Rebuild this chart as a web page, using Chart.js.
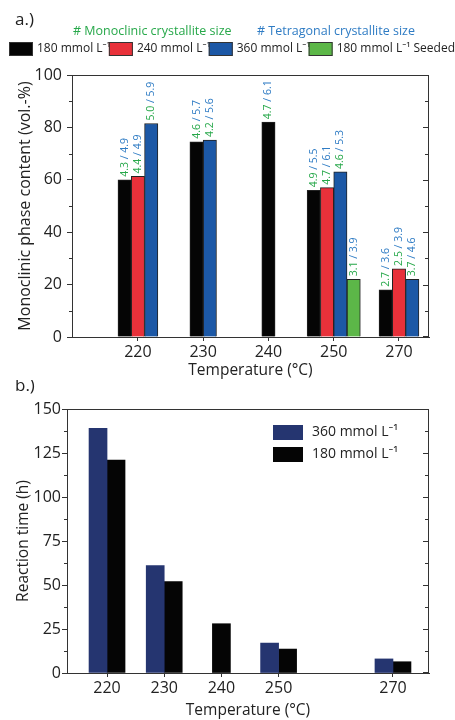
<!DOCTYPE html>
<html>
<head>
<meta charset="utf-8">
<script src="https://cdn.jsdelivr.net/npm/chart.js@4.4.0/dist/chart.umd.min.js"></script>
<style>
  html, body { margin: 0; padding: 0; background: #fff; }
  #wrapA { position: absolute; left: 0; top: 0; width: 455px; height: 380px; }
  #wrapB { position: absolute; left: 0; top: 380px; width: 455px; height: 340px; }
</style>
</head>
<body>
<div id="wrapA"><canvas id="chartA"></canvas></div>
<div id="wrapB"><canvas id="chartB"></canvas></div>
<script>
// a.) monoclinic phase content (vol.-%)
const temperatures = ['220', '230', '240', '250', '270'];
const content180 = [60, 74.5, 82, 56, 18];
const content240 = [61.3, null, null, 57, 26];
const content360 = [81.5, 75.2, null, 63, 22];
const content180Seeded = [null, null, null, 22, null];

// crystallite sizes written above the bars (monoclinic / tetragonal)
const mono180 = [4.3, 4.6, 4.7, 4.9, 2.7];
const tetra180 = [4.9, 5.7, 6.1, 5.5, 3.6];
const mono240 = [4.4, null, null, 4.7, 2.5];
const tetra240 = [4.9, null, null, 6.1, 3.9];
const mono360 = [5.0, 4.2, null, 4.6, 3.7];
const tetra360 = [5.9, 5.6, null, 5.3, 4.6];
const monoSeeded = [null, null, null, 3.1, null];
const tetraSeeded = [null, null, null, 3.9, null];

const contentTicks = [0, 20, 40, 60, 80, 100];
const contentMinorTicks = [10, 30, 50, 70, 90];

// b.) reaction time (h)
const tempsB = [220, 230, 240, 250, 270];
const time360 = [139, 61, null, 17, 8];
const time180 = [121, 52, 28, 13.6, 6.4];
const timeTicks = [0, 25, 50, 75, 100, 125, 150];
const timeMinorTicks = [12.5, 37.5, 62.5, 87.5, 112.5, 137.5];

const FONT = '"Open Sans", "Noto Sans", sans-serif';
const TEXT = '#222';
const LINE = '#333';
const GREEN_TXT = '#27a84a';
const BLUE_TXT = '#2f7cc4';

Chart.defaults.font.family = FONT;
Chart.defaults.color = TEXT;

// box edges and ticks drawn as filled 1px rectangles (top, right, minor, inner)
function drawFrame(chart, majors, minors) {
  const { ctx, chartArea: a } = chart;
  const y = chart.scales.y;
  const l = Math.round(a.left), r = Math.round(a.right) - 1;
  const t = Math.round(a.top), b = Math.round(a.bottom) - 1;
  ctx.save();
  ctx.fillStyle = LINE;
  ctx.fillRect(l, t, r - l + 1, 1);
  ctx.fillRect(r, t, 1, b - t + 1);
  majors.forEach(v => {
    const py = Math.round(y.getPixelForValue(v));
    ctx.fillRect(r - 5, Math.min(py, b), 5, 1);
  });
  minors.forEach(v => {
    const py = Math.round(y.getPixelForValue(v));
    ctx.fillRect(l - 3, py, 3, 1);
    ctx.fillRect(r - 3, py, 3, 1);
  });
  ctx.restore();
}

// rotated "mono / tetra" size labels above each bar
const sizeLabels = {
  id: 'sizeLabels',
  afterDatasetsDraw(chart) {
    const ctx = chart.ctx;
    chart.data.datasets.forEach((ds, di) => {
      const meta = chart.getDatasetMeta(di);
      meta.data.forEach((bar, i) => {
        if (ds.mono[i] == null || ds.data[i].y == null) return;
        const monoText = ds.mono[i].toFixed(1) + ' ';
        const tetraText = '/ ' + ds.tetra[i].toFixed(1);
        ctx.save();
        ctx.translate(bar.x, bar.y - 3);
        ctx.rotate(-Math.PI / 2);
        ctx.font = '10.5px ' + FONT;
        ctx.textAlign = 'left';
        ctx.textBaseline = 'middle';
        ctx.fillStyle = GREEN_TXT;
        ctx.fillText(monoText, 0, 0);
        ctx.fillStyle = BLUE_TXT;
        ctx.fillText(tetraText, ctx.measureText(monoText).width, 0);
        ctx.restore();
      });
    });
  }
};

// header of panel a.): panel letter, coloured notes and the legend row
const headerA = {
  id: 'headerA',
  afterDraw(chart) {
    drawFrame(chart, contentTicks, contentMinorTicks);
    const ctx = chart.ctx;
    ctx.save();
    ctx.textBaseline = 'middle';
    ctx.font = '17px ' + FONT;
    ctx.fillStyle = TEXT;
    ctx.fillText('a.)', 15, 20);

    ctx.font = '12.5px ' + FONT;
    ctx.fillStyle = GREEN_TXT;
    ctx.fillText('# Monoclinic crystallite size', 73, 31);
    ctx.fillStyle = BLUE_TXT;
    ctx.fillText('# Tetragonal crystallite size', 257, 31);

    ctx.font = '12px ' + FONT;
    const items = chart.data.datasets;
    const boxW = 24, boxH = 14, gapIn = 4;
    const widths = items.map(d => boxW + gapIn + ctx.measureText(d.label).width);
    const total = widths.reduce((s, w) => s + w, 0);
    const gap = (446 - total) / (items.length - 1);
    let x = 9;
    items.forEach((d, i) => {
      ctx.fillStyle = d.backgroundColor;
      ctx.fillRect(x, 42, boxW, boxH);
      ctx.strokeStyle = '#333';
      ctx.lineWidth = 1;
      ctx.strokeRect(x + 0.5, 42.5, boxW - 1, boxH - 1);
      ctx.fillStyle = TEXT;
      ctx.fillText(d.label, x + boxW + gapIn, 49);
      x += widths[i] + gap;
    });
    ctx.restore();
  }
};

const headerB = {
  id: 'headerB',
  afterDraw(chart) {
    drawFrame(chart, timeTicks, timeMinorTicks);
    const ctx = chart.ctx;
    ctx.save();
    ctx.textBaseline = 'middle';
    ctx.font = '17px ' + FONT;
    ctx.fillStyle = TEXT;
    ctx.fillText('b.)', 15, 6);

    // legend inside the plot, upper right
    ctx.font = '14px ' + FONT;
    chart.data.datasets.forEach((d, i) => {
      const by = 45 + i * 22;
      ctx.fillStyle = d.backgroundColor;
      ctx.fillRect(273, by, 30, 15);
      ctx.fillStyle = TEXT;
      ctx.fillText(d.label, 312, by + 7.5);
    });
    ctx.restore();
  }
};

const toPoints = (vals) => vals.map((v, i) => ({ x: i, y: v }));

const seriesA = [
  { label: '180 mmol L⁻¹', values: content180, mono: mono180, tetra: tetra180, color: '#050505' },
  { label: '240 mmol L⁻¹', values: content240, mono: mono240, tetra: tetra240, color: '#e8313a' },
  { label: '360 mmol L⁻¹', values: content360, mono: mono360, tetra: tetra360, color: '#1c58a6' },
  { label: '180 mmol L⁻¹ Seeded', values: content180Seeded, mono: monoSeeded, tetra: tetraSeeded, color: '#5cb748' }
];

new Chart(document.getElementById('chartA'), {
  type: 'bar',
  data: {
    datasets: seriesA.map(s => ({
      label: s.label,
      data: toPoints(s.values),
      mono: s.mono,
      tetra: s.tetra,
      backgroundColor: s.color,
      borderColor: '#222',
      borderWidth: 1,
      barThickness: 13.3,
      skipNull: true
    }))
  },
  options: {
    responsive: true,
    maintainAspectRatio: false,
    animation: false,
    layout: { padding: { top: 75, right: 26, left: 0, bottom: 0 } },
    plugins: {
      legend: { display: false },
      tooltip: { enabled: false }
    },
    scales: {
      x: {
        type: 'linear',
        offset: false,
        min: -1.01,
        max: 4.46,
        afterBuildTicks: (s) => { s.ticks = temperatures.map((t, i) => ({ value: i })); },
        afterFit: (s) => { s.height = 43; },
        ticks: { callback: (v) => temperatures[v], font: { size: 16 }, color: TEXT, padding: 2, maxRotation: 0 },
        grid: { offset: false, drawOnChartArea: false, tickLength: 4, color: LINE },
        border: { color: LINE },
        title: { display: true, text: 'Temperature (°C)', font: { size: 15.5 }, color: TEXT, padding: { top: 0, bottom: 0 } }
      },
      y: {
        min: 0,
        max: 100,
        afterBuildTicks: (s) => { s.ticks = contentTicks.map(v => ({ value: v })); },
        afterFit: (s) => { s.width = 72; },
        ticks: { font: { size: 16 }, color: TEXT, padding: 5 },
        grid: { drawOnChartArea: false, tickLength: 5, color: LINE },
        border: { color: LINE },
        title: { display: true, text: 'Monoclinic phase content (vol.-%)', font: { size: 16 }, color: TEXT, padding: { top: 16, bottom: 0 } }
      }
    }
  },
  plugins: [sizeLabels, headerA]
});

const toTempPoints = (vals) => vals.map((v, i) => ({ x: tempsB[i], y: v }));

new Chart(document.getElementById('chartB'), {
  type: 'bar',
  data: {
    datasets: [
      { label: '360 mmol L⁻¹', data: toTempPoints(time360), backgroundColor: '#253570', barThickness: 18, skipNull: true },
      { label: '180 mmol L⁻¹', data: toTempPoints(time180), backgroundColor: '#050505', barThickness: 18, skipNull: true }
    ]
  },
  options: {
    responsive: true,
    maintainAspectRatio: false,
    animation: false,
    layout: { padding: { top: 29, right: 26, left: 0, bottom: 0 } },
    plugins: {
      legend: { display: false },
      tooltip: { enabled: false }
    },
    scales: {
      x: {
        type: 'linear',
        offset: false,
        min: 213,
        max: 276.3,
        afterBuildTicks: (s) => { s.ticks = tempsB.map(v => ({ value: v })); },
        afterFit: (s) => { s.height = 47; },
        ticks: { font: { size: 16 }, color: TEXT, padding: 2, maxRotation: 0 },
        grid: { offset: false, drawOnChartArea: false, tickLength: 4, color: LINE },
        border: { color: LINE },
        title: { display: true, text: 'Temperature (°C)', font: { size: 15.5 }, color: TEXT, padding: { top: 0, bottom: 0 } }
      },
      y: {
        min: 0,
        max: 150,
        afterBuildTicks: (s) => { s.ticks = timeTicks.map(v => ({ value: v })); },
        afterFit: (s) => { s.width = 67; },
        ticks: { font: { size: 16 }, color: TEXT, padding: 1 },
        grid: { drawOnChartArea: false, tickLength: 5, color: LINE },
        border: { color: LINE },
        title: { display: true, text: 'Reaction time (h)', font: { size: 15.5 }, color: TEXT, padding: { top: 14, bottom: 0 } }
      }
    }
  },
  plugins: [headerB]
});
</script>
</body>
</html>
